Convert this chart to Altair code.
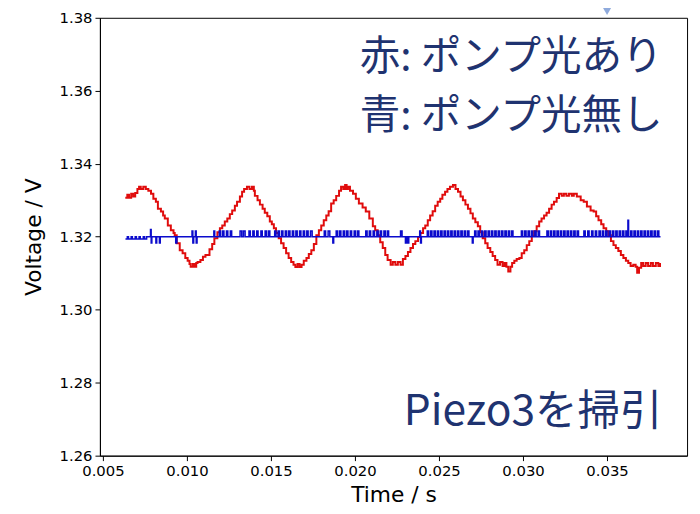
import altair as alt
import pandas as pd

# ---- red trace (pump light on) ----
red_time = [
    0.00633, 0.00645, 0.00655, 0.00668, 0.00680, 0.00692, 0.00705, 0.00715, 0.00725, 0.00740,
    0.00755, 0.00770, 0.00786, 0.00800, 0.00815, 0.00827, 0.00845, 0.00858, 0.00868, 0.00886,
    0.00904, 0.00920, 0.00927, 0.00939, 0.00957, 0.00974, 0.00990, 0.01004, 0.01015, 0.01022,
    0.01035, 0.01045, 0.01055, 0.01063, 0.01080, 0.01095, 0.01110, 0.01134, 0.01150, 0.01163,
    0.01181, 0.01196, 0.01210, 0.01225, 0.01240, 0.01255, 0.01269, 0.01285, 0.01298, 0.01315,
    0.01328, 0.01340, 0.01357, 0.01372, 0.01387, 0.01398, 0.01404, 0.01420, 0.01434, 0.01450,
    0.01463, 0.01478, 0.01493, 0.01505, 0.01517, 0.01530, 0.01546, 0.01560, 0.01575, 0.01590,
    0.01605, 0.01620, 0.01634, 0.01645, 0.01658, 0.01670, 0.01682, 0.01695, 0.01711, 0.01725,
    0.01740, 0.01755, 0.01770, 0.01785, 0.01799, 0.01814, 0.01829, 0.01843, 0.01858, 0.01873,
    0.01888, 0.01905, 0.01917, 0.01930, 0.01941, 0.01950, 0.01958, 0.01970, 0.01988, 0.02005,
    0.02023, 0.02045, 0.02064, 0.02085, 0.02106, 0.02120, 0.02135, 0.02150, 0.02165, 0.02180,
    0.02194, 0.02212, 0.02225, 0.02240, 0.02255, 0.02271, 0.02285, 0.02300, 0.02315, 0.02330,
    0.02345, 0.02359, 0.02375, 0.02389, 0.02405, 0.02418, 0.02433, 0.02447, 0.02462, 0.02477,
    0.02492, 0.02507, 0.02520, 0.02536, 0.02550, 0.02565, 0.02583, 0.02598, 0.02613, 0.02628,
    0.02642, 0.02657, 0.02672, 0.02687, 0.02701, 0.02716, 0.02731, 0.02745, 0.02760, 0.02775,
    0.02789, 0.02805, 0.02819, 0.02834, 0.02848, 0.02863, 0.02878, 0.02890, 0.02901, 0.02912,
    0.02925, 0.02935, 0.02948, 0.02962, 0.02978, 0.02992, 0.03007, 0.03022, 0.03037, 0.03052,
    0.03066, 0.03081, 0.03096, 0.03110, 0.03125, 0.03140, 0.03155, 0.03170, 0.03184, 0.03200,
    0.03214, 0.03230, 0.03243, 0.03258, 0.03273, 0.03290, 0.03302, 0.03320, 0.03343, 0.03361,
    0.03380, 0.03402, 0.03420, 0.03435, 0.03449, 0.03465, 0.03479, 0.03495, 0.03508, 0.03523,
    0.03538, 0.03552, 0.03567, 0.03582, 0.03597, 0.03612, 0.03626, 0.03640, 0.03656, 0.03670,
    0.03679, 0.03690, 0.03703, 0.03715, 0.03730, 0.03744, 0.03760, 0.03773, 0.03790, 0.03805,
    0.03815,
]
red_volt = [
    1.3307, 1.3315, 1.3307, 1.3318, 1.3310, 1.3320, 1.3331, 1.3337, 1.3331, 1.3337,
    1.3331, 1.3326, 1.3318, 1.3304, 1.3296, 1.3277, 1.3269, 1.3258, 1.3250, 1.3231,
    1.3218, 1.3210, 1.3204, 1.3182, 1.3163, 1.3155, 1.3142, 1.3134, 1.3125, 1.3118,
    1.3125, 1.3118, 1.3128, 1.3131, 1.3136, 1.3145, 1.3150, 1.3166, 1.3180, 1.3196,
    1.3212, 1.3223, 1.3231, 1.3242, 1.3250, 1.3262, 1.3272, 1.3285, 1.3296, 1.3310,
    1.3323, 1.3331, 1.3337, 1.3331, 1.3337, 1.3326, 1.3312, 1.3300, 1.3288, 1.3277,
    1.3266, 1.3256, 1.3242, 1.3234, 1.3223, 1.3210, 1.3196, 1.3182, 1.3169, 1.3155,
    1.3142, 1.3131, 1.3123, 1.3117, 1.3125, 1.3117, 1.3123, 1.3134, 1.3142, 1.3153,
    1.3163, 1.3180, 1.3204, 1.3218, 1.3231, 1.3245, 1.3258, 1.3270, 1.3291, 1.3300,
    1.3312, 1.3326, 1.3337, 1.3331, 1.3342, 1.3331, 1.3337, 1.3326, 1.3318, 1.3304,
    1.3291, 1.3280, 1.3269, 1.3250, 1.3229, 1.3218, 1.3204, 1.3185, 1.3169, 1.3150,
    1.3136, 1.3123, 1.3131, 1.3123, 1.3131, 1.3123, 1.3139, 1.3147, 1.3158, 1.3169,
    1.3180, 1.3188, 1.3199, 1.3210, 1.3223, 1.3231, 1.3245, 1.3258, 1.3270, 1.3285,
    1.3296, 1.3304, 1.3315, 1.3323, 1.3331, 1.3337, 1.3342, 1.3331, 1.3323, 1.3310,
    1.3300, 1.3288, 1.3277, 1.3264, 1.3250, 1.3240, 1.3229, 1.3212, 1.3196, 1.3182,
    1.3169, 1.3158, 1.3147, 1.3136, 1.3123, 1.3131, 1.3120, 1.3128, 1.3118, 1.3105,
    1.3118, 1.3128, 1.3134, 1.3139, 1.3142, 1.3155, 1.3163, 1.3177, 1.3188, 1.3202,
    1.3215, 1.3229, 1.3242, 1.3250, 1.3258, 1.3266, 1.3277, 1.3288, 1.3296, 1.3306,
    1.3318, 1.3312, 1.3318, 1.3312, 1.3318, 1.3312, 1.3318, 1.3310, 1.3300, 1.3296,
    1.3283, 1.3272, 1.3269, 1.3256, 1.3245, 1.3234, 1.3223, 1.3215, 1.3204, 1.3188,
    1.3177, 1.3169, 1.3161, 1.3150, 1.3142, 1.3134, 1.3128, 1.3120, 1.3123, 1.3118,
    1.3101, 1.3115, 1.3128, 1.3120, 1.3128, 1.3120, 1.3128, 1.3120, 1.3128, 1.3120,
    1.3128,
]

# ---- blue trace (pump light off) ----
blue_time = [
    0.00634, 0.00645, 0.00652, 0.00668, 0.00675, 0.00692, 0.00699, 0.00715, 0.00722, 0.00740, 0.00748, 0.00760,
    0.00783, 0.00787, 0.00791, 0.00815, 0.00820, 0.00836, 0.00841, 0.00933, 0.00940,
    0.01030, 0.01035, 0.01040, 0.01050, 0.01055, 0.01060, 0.01160, 0.01165,
    0.01192, 0.01200, 0.01212, 0.01220, 0.01235, 0.01243, 0.01258, 0.01266,
    0.01316, 0.01326, 0.01336, 0.01346,
    0.01369, 0.01377, 0.01392, 0.01400, 0.01415, 0.01423, 0.01440, 0.01448, 0.01465, 0.01473, 0.01485, 0.01493,
    0.01522, 0.01530, 0.01542, 0.01550, 0.01563, 0.01571, 0.01585, 0.01593, 0.01605, 0.01613, 0.01627,
    0.01635, 0.01648, 0.01656, 0.01670, 0.01678, 0.01692, 0.01700, 0.01713, 0.01721, 0.01735, 0.01745,
    0.01817, 0.01825, 0.01840, 0.01850, 0.01868, 0.01873,
    0.01888, 0.01896, 0.01908, 0.01916, 0.01930, 0.01938, 0.01950, 0.01958, 0.01972, 0.01980, 0.01995, 0.02003, 0.02015, 0.02023,
    0.02064, 0.02072, 0.02085, 0.02093, 0.02108, 0.02116, 0.02130, 0.02138, 0.02150, 0.02158, 0.02172, 0.02180, 0.02192, 0.02200,
    0.02271, 0.02280, 0.02300, 0.02306, 0.02314, 0.02320, 0.02385, 0.02390, 0.02395,
    0.02430, 0.02438, 0.02450, 0.02458, 0.02470, 0.02478, 0.02490, 0.02498, 0.02510, 0.02518, 0.02530, 0.02538, 0.02550,
    0.02558, 0.02570, 0.02578, 0.02590, 0.02598, 0.02610, 0.02618, 0.02630, 0.02638, 0.02650, 0.02658, 0.02670, 0.02678,
    0.02698, 0.02703, 0.02712, 0.02720, 0.02732, 0.02740, 0.02752, 0.02760, 0.02772, 0.02780, 0.02792, 0.02800, 0.02812,
    0.02820, 0.02832, 0.02840, 0.02852, 0.02860,
    0.02872, 0.02880, 0.02892, 0.02900, 0.02912, 0.02920, 0.02932, 0.02940,
    0.02990, 0.02998, 0.03010, 0.03018, 0.03030, 0.03038, 0.03050, 0.03058, 0.03070, 0.03078, 0.03090, 0.03098,
    0.03142, 0.03150, 0.03162, 0.03170, 0.03182, 0.03190, 0.03202, 0.03210, 0.03222, 0.03230,
    0.03242, 0.03250, 0.03262, 0.03270, 0.03282, 0.03290, 0.03302, 0.03310, 0.03322, 0.03330,
    0.03362, 0.03370, 0.03385, 0.03393, 0.03408, 0.03416, 0.03430, 0.03438, 0.03452, 0.03460, 0.03472, 0.03480,
    0.03492, 0.03500, 0.03512, 0.03520, 0.03532, 0.03540, 0.03552, 0.03560, 0.03572, 0.03580, 0.03592, 0.03600,
    0.03612, 0.03618, 0.03624, 0.03628, 0.03640, 0.03648, 0.03660, 0.03668, 0.03680, 0.03688, 0.03700, 0.03708,
    0.03720, 0.03728, 0.03740, 0.03748, 0.03760, 0.03768, 0.03780, 0.03788, 0.03800, 0.03808, 0.03818,
]
blue_volt = [
    1.3194, 1.3200, 1.3194, 1.3200, 1.3194, 1.3200, 1.3194, 1.3200, 1.3194, 1.3200, 1.3194, 1.3200,
    1.3220, 1.3183, 1.3200, 1.3183, 1.3200, 1.3183, 1.3200, 1.3183, 1.3200,
    1.3216, 1.3183, 1.3200, 1.3216, 1.3183, 1.3200, 1.3216, 1.3200,
    1.3216, 1.3200, 1.3216, 1.3200, 1.3216, 1.3200, 1.3216, 1.3200,
    1.3216, 1.3200, 1.3216, 1.3200,
    1.3216, 1.3200, 1.3216, 1.3200, 1.3216, 1.3200, 1.3216, 1.3200, 1.3216, 1.3200, 1.3216, 1.3200,
    1.3216, 1.3200, 1.3216, 1.3200, 1.3216, 1.3200, 1.3216, 1.3200, 1.3216, 1.3200, 1.3216,
    1.3200, 1.3216, 1.3200, 1.3216, 1.3200, 1.3216, 1.3200, 1.3216, 1.3200, 1.3216, 1.3200,
    1.3216, 1.3200, 1.3216, 1.3200, 1.3183, 1.3200,
    1.3216, 1.3200, 1.3216, 1.3200, 1.3216, 1.3200, 1.3216, 1.3200, 1.3216, 1.3200, 1.3216, 1.3200, 1.3216, 1.3200,
    1.3216, 1.3200, 1.3216, 1.3200, 1.3216, 1.3200, 1.3216, 1.3200, 1.3216, 1.3200, 1.3216, 1.3200, 1.3216, 1.3200,
    1.3216, 1.3200, 1.3183, 1.3200, 1.3183, 1.3200, 1.3216, 1.3183, 1.3200,
    1.3216, 1.3200, 1.3216, 1.3200, 1.3216, 1.3200, 1.3216, 1.3200, 1.3216, 1.3200, 1.3216, 1.3200, 1.3216,
    1.3200, 1.3216, 1.3200, 1.3216, 1.3200, 1.3216, 1.3200, 1.3216, 1.3200, 1.3216, 1.3200, 1.3216, 1.3200,
    1.3183, 1.3200, 1.3216, 1.3200, 1.3216, 1.3200, 1.3216, 1.3200, 1.3216, 1.3200, 1.3216, 1.3200, 1.3216,
    1.3200, 1.3216, 1.3200, 1.3216, 1.3200,
    1.3216, 1.3200, 1.3216, 1.3200, 1.3216, 1.3200, 1.3216, 1.3200,
    1.3216, 1.3200, 1.3216, 1.3200, 1.3216, 1.3200, 1.3216, 1.3200, 1.3216, 1.3200, 1.3216, 1.3200,
    1.3216, 1.3200, 1.3216, 1.3200, 1.3216, 1.3200, 1.3216, 1.3200, 1.3216, 1.3200,
    1.3216, 1.3200, 1.3216, 1.3200, 1.3216, 1.3200, 1.3216, 1.3200, 1.3216, 1.3200,
    1.3216, 1.3200, 1.3216, 1.3200, 1.3216, 1.3200, 1.3216, 1.3200, 1.3216, 1.3200, 1.3216, 1.3200,
    1.3216, 1.3200, 1.3216, 1.3200, 1.3216, 1.3200, 1.3216, 1.3200, 1.3216, 1.3200, 1.3216, 1.3200,
    1.3216, 1.3200, 1.3245, 1.3200, 1.3216, 1.3200, 1.3216, 1.3200, 1.3216, 1.3200, 1.3216, 1.3200,
    1.3216, 1.3200, 1.3216, 1.3200, 1.3216, 1.3200, 1.3216, 1.3200, 1.3216, 1.3200, 1.3200,
]

# ---- axis ticks ----
x_ticks = [0.005, 0.010, 0.015, 0.020, 0.025, 0.030, 0.035]
y_ticks = [1.26, 1.28, 1.30, 1.32, 1.34, 1.36, 1.38]

# ---- annotations ----
legend_text = ["赤: ポンプ光あり", "青: ポンプ光無し"]
legend_time = [0.03830, 0.03830]
legend_volt = [1.3689, 1.3527]

sweep_text = ["Piezo3を掃引"]
sweep_time = [0.03830]
sweep_volt = [1.2720]

marker_time = [0.0350]
marker_volt = [1.3843]

df_red = pd.DataFrame({"t": red_time, "v": red_volt})
df_blue = pd.DataFrame({"t": blue_time, "v": blue_volt})
df_legend = pd.DataFrame({"t": legend_time, "v": legend_volt, "label": legend_text})
df_sweep = pd.DataFrame({"t": sweep_time, "v": sweep_volt, "label": sweep_text})
df_marker = pd.DataFrame({"t": marker_time, "v": marker_volt})

xscale = alt.Scale(domain=[0.00482, 0.03976], nice=False, zero=False)
yscale = alt.Scale(domain=[1.26, 1.38], nice=False, zero=False)

FONT = "DejaVu Sans"

xaxis = alt.Axis(
    values=x_ticks, format=".3f", title="Time / s", grid=False,
    labelFont=FONT, labelFontSize=15, labelColor="black", labelPadding=3,
    titleFont=FONT, titleFontSize=22, titleFontWeight="normal", titleColor="black",
    titlePadding=6, domainColor="black", tickColor="black", tickSize=5,
)
yaxis = alt.Axis(
    values=y_ticks, format=".2f", title="Voltage / V", grid=False,
    labelFont=FONT, labelFontSize=15, labelColor="black", labelPadding=3,
    titleFont=FONT, titleFontSize=22, titleFontWeight="normal", titleColor="black",
    titlePadding=14, domainColor="black", tickColor="black", tickSize=5,
)

X = alt.X("t:Q", scale=xscale, axis=xaxis, title="Time / s")
Y = alt.Y("v:Q", scale=yscale, axis=yaxis, title="Voltage / V")

red = alt.Chart(df_red).mark_line(
    color="#e00c0c", strokeWidth=2, interpolate="step-after"
).encode(x=X, y=Y)

blue = alt.Chart(df_blue).mark_line(
    color="#0b0bcc", strokeWidth=1.5, interpolate="step-after"
).encode(x=X, y=Y)

legend_note = alt.Chart(df_legend).mark_text(
    align="right", baseline="middle", font="Noto Sans CJK JP",
    fontSize=41, color="#1f3370",
).encode(x=X, y=Y, text="label:N")

sweep_note = alt.Chart(df_sweep).mark_text(
    align="right", baseline="middle", font="Noto Sans CJK JP",
    fontSize=43, color="#1f3370",
).encode(x=X, y=Y, text="label:N")

marker = alt.Chart(df_marker).mark_point(
    shape="triangle-down", filled=True, color="#8faadc", opacity=1, strokeWidth=0,
).encode(x=X, y=Y, size=alt.value(900))

chart = alt.layer(red, blue, legend_note, sweep_note, marker).properties(
    width=594,
    height=443,
    autosize=alt.AutoSizeParams(type="none"),
    padding={"left": 93, "top": 7, "right": 5, "bottom": 48},
    background="white",
).configure_view(stroke="black", strokeWidth=1)

chart.save("out.html", embed_options={"renderer": "svg", "actions": False})
